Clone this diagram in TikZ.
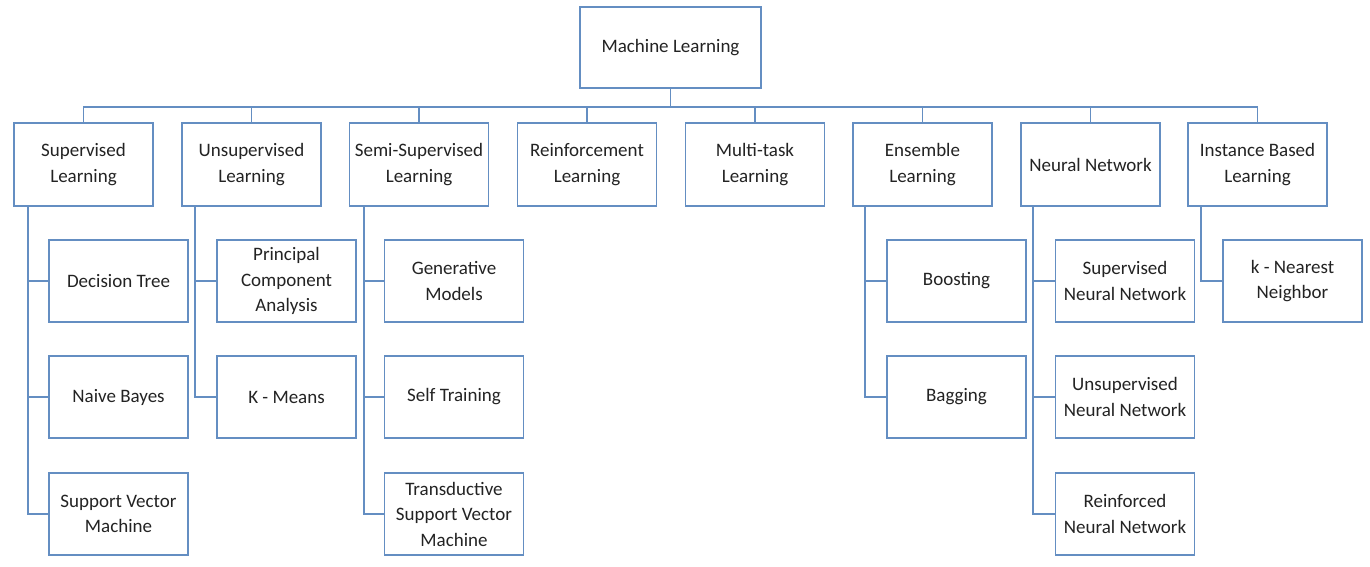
\documentclass[tikz,border=0pt]{standalone}
\usepackage{fontspec}
\setmainfont{Carlito}
\definecolor{edgeblue}{RGB}{100,142,194}
\definecolor{txt}{RGB}{35,35,35}
\begin{document}
\begin{tikzpicture}[x=1pt,y=-1pt,
  box/.style={draw=edgeblue,line width=1.8pt,fill=white,rectangle,align=center,
    text=txt,font=\fontsize{19}{25.5}\selectfont,inner sep=2pt},
  topbox/.style={box,minimum width=181pt,minimum height=81pt},
  catbox/.style={box,minimum width=139pt,minimum height=83pt},
  leafbox/.style={box,minimum width=139pt,minimum height=82pt},
  link/.style={draw=edgeblue,line width=1.8pt}]
\useasboundingbox (0,0) rectangle (1370,566);
% root
\node[topbox] (ml) at (670.5,47.5) {Machine Learning};
% level 1
\node[catbox] (sup)  at (83.5,164.5)   {Supervised\\Learning};
\node[catbox] (uns)  at (251.5,164.5)  {Unsupervised\\Learning};
\node[catbox] (semi) at (419,164.5)    {Semi-Supervised\\Learning};
\node[catbox] (rein) at (587,164.5)    {Reinforcement\\Learning};
\node[catbox] (mult) at (755,164.5)    {Multi-task\\Learning};
\node[catbox] (ens)  at (922.5,164.5)  {Ensemble\\Learning};
\node[catbox] (nn)   at (1090.5,164.5) {Neural Network};
\node[catbox] (inst) at (1257.5,164.5) {Instance Based\\Learning};
% level 2
\node[leafbox] (dt)   at (118.5,281)  {Decision Tree};
\node[leafbox] (nb)   at (118.5,397)  {Naive Bayes};
\node[leafbox] (svm)  at (118.5,514)  {Support Vector\\Machine};
\node[leafbox] (pca)  at (286.5,281)  {Principal\\Component\\Analysis};
\node[leafbox] (km)   at (286.5,397)  {K - Means};
\node[leafbox] (gen)  at (454,281)    {Generative\\Models};
\node[leafbox] (self) at (454,397)    {Self Training};
\node[leafbox] (tsvm) at (454,514)    {Transductive\\Support Vector\\Machine};
\node[leafbox] (boost) at (956.5,281) {Boosting};
\node[leafbox] (bag)   at (956.5,397) {Bagging};
\node[leafbox] (snn)  at (1125,281)   {Supervised\\Neural Network};
\node[leafbox] (unn)  at (1125,397)   {Unsupervised\\Neural Network};
\node[leafbox] (rnn)  at (1125,514)   {Reinforced\\Neural Network};
\node[leafbox] (knn)  at (1292.5,281) {k - Nearest\\Neighbor};
% bus
\draw[link] (ml.south) -- ++(0,18) coordinate (b);
\draw[link] (sup.north) -- (sup.north |- b) -- (inst.north |- b) -- (inst.north);
\foreach \n in {uns,semi,rein,mult,ens,nn}{
  \draw[link] (\n.north) -- (\n.north |- b);
}
% spines
\draw[link] ([xshift=15pt]sup.south west) |- (svm.west);
\draw[link] ([xshift=15pt]sup.south west |- dt.west) -- (dt.west);
\draw[link] ([xshift=15pt]sup.south west |- nb.west) -- (nb.west);
\draw[link] ([xshift=14pt]uns.south west) |- (km.west);
\draw[link] ([xshift=14pt]uns.south west |- pca.west) -- (pca.west);
\draw[link] ([xshift=15pt]semi.south west) |- (tsvm.west);
\draw[link] ([xshift=15pt]semi.south west |- gen.west) -- (gen.west);
\draw[link] ([xshift=15pt]semi.south west |- self.west) -- (self.west);
\draw[link] ([xshift=13pt]ens.south west) |- (bag.west);
\draw[link] ([xshift=13pt]ens.south west |- boost.west) -- (boost.west);
\draw[link] ([xshift=13pt]nn.south west) |- (rnn.west);
\draw[link] ([xshift=13pt]nn.south west |- snn.west) -- (snn.west);
\draw[link] ([xshift=13pt]nn.south west |- unn.west) -- (unn.west);
\draw[link] ([xshift=14pt]inst.south west) |- (knn.west);
\end{tikzpicture}
\end{document}
